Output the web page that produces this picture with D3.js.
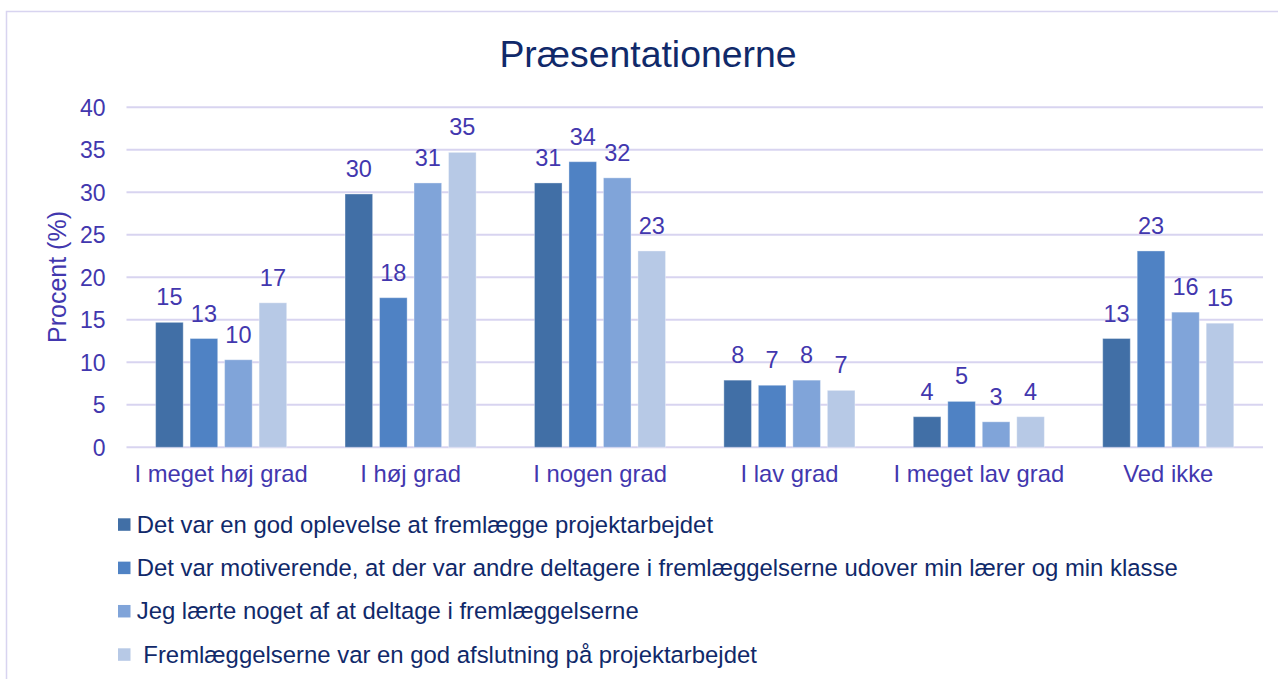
<!DOCTYPE html>
<html>
<head>
<meta charset="utf-8">
<script src="https://cdn.jsdelivr.net/npm/d3@7"></script>
<style>
  html, body { margin: 0; padding: 0; background: #ffffff; }
  svg { display: block; font-family: "Liberation Sans", Arial, sans-serif; }
</style>
</head>
<body>
<svg id="chart" width="1278" height="679"></svg>
<script>
const title = "Præsentationerne";
const yAxisTitle = "Procent (%)";
const categories = ["I meget høj grad", "I høj grad", "I nogen grad", "I lav grad", "I meget lav grad", "Ved ikke"];
const seriesNames = [
  "Det var en god oplevelse at fremlægge projektarbejdet",
  "Det var motiverende, at der var andre deltagere i fremlæggelserne udover min lærer og min klasse",
  "Jeg lærte noget af at deltage i fremlæggelserne",
  " Fremlæggelserne var en god afslutning på projektarbejdet"
];
const series1 = [14.7, 29.8, 31.1, 7.9, 3.6, 12.8];
const series2 = [12.8, 17.6, 33.6, 7.3, 5.4, 23.1];
const series3 = [10.3, 31.1, 31.7, 7.9, 3.0, 15.9];
const series4 = [17.0, 34.7, 23.1, 6.7, 3.6, 14.6];
const yTicks = [0, 5, 10, 15, 20, 25, 30, 35, 40];

const seriesValues = [series1, series2, series3, series4];
const colors = ["#416fa6", "#4f82c4", "#80a4d9", "#b7c9e6"];
const purple = "#4237ae";
const navy = "#10296a";
const gridColor = "#d8d4f0";

const svg = d3.select("#chart");

// border frame
svg.append("rect")
  .attr("x", 6.5).attr("y", 11.5)
  .attr("width", 1300).attr("height", 700)
  .attr("fill", "none").attr("stroke", gridColor).attr("stroke-width", 1.5);

const plot = { left: 126.5, right: 1263, top: 107.3, bottom: 447.3 };

const y = d3.scaleLinear().domain([0, 40]).range([plot.bottom, plot.top]);
const x0 = d3.scaleBand().domain(categories).range([plot.left, plot.right]).paddingInner(0).paddingOuter(0);
const x1 = d3.scaleBand().domain(d3.range(4)).range([29.1, 160.1]).paddingInner(0.2);
const groupScale = x0.step() / 189.3;

// gridlines
svg.append("g").selectAll("line").data(yTicks).join("line")
  .attr("x1", plot.left).attr("x2", plot.right)
  .attr("y1", d => y(d)).attr("y2", d => y(d))
  .attr("stroke", gridColor).attr("stroke-width", 2);

// y axis labels
const yAxis = d3.axisLeft(y).tickValues(yTicks).tickSize(0).tickPadding(21);
const yg = svg.append("g").attr("transform", `translate(${plot.left},0)`).call(yAxis);
yg.select(".domain").remove();
yg.selectAll("text").attr("fill", purple).style("font-size", "23px")
  .style("font-family", "'Liberation Sans', Arial, sans-serif").attr("dy", "0.35em");

// x axis labels
const xAxis = d3.axisBottom(x0).tickSize(0).tickPadding(0);
const xg = svg.append("g").attr("transform", `translate(0,${plot.bottom})`).call(xAxis);
xg.select(".domain").remove();
xg.selectAll("text").attr("fill", purple).style("font-size", "23.8px")
  .style("font-family", "'Liberation Sans', Arial, sans-serif")
  .attr("dy", null).attr("y", 35);

// bars
const groups = svg.append("g").selectAll("g").data(categories).join("g")
  .attr("transform", d => `translate(${x0(d)},0)`);

groups.selectAll("rect")
  .data((c, ci) => seriesValues.map((s, si) => ({ si, v: s[ci] })))
  .join("rect")
  .attr("x", d => x1(d.si) * groupScale)
  .attr("width", x1.bandwidth() * groupScale)
  .attr("y", d => y(d.v))
  .attr("height", d => y(0) - y(d.v))
  .attr("fill", d => colors[d.si])
  .attr("stroke", "#ffffff").attr("stroke-opacity", 0.35).attr("stroke-width", 1);

groups.selectAll("text")
  .data((c, ci) => seriesValues.map((s, si) => ({ si, v: s[ci] })))
  .join("text")
  .attr("x", d => (x1(d.si) + x1.bandwidth() / 2) * groupScale)
  .attr("y", d => y(d.v) - 17)
  .attr("text-anchor", "middle")
  .attr("fill", purple)
  .style("font-size", "23.5px")
  .text(d => Math.round(d.v));

// y axis title
svg.append("text")
  .attr("transform", `translate(66,277) rotate(-90)`)
  .attr("text-anchor", "middle")
  .attr("fill", purple)
  .style("font-size", "25px")
  .text(yAxisTitle);

// chart title
svg.append("text")
  .attr("x", 648).attr("y", 67)
  .attr("text-anchor", "middle")
  .attr("fill", navy)
  .style("font-size", "37.4px")
  .text(title);

// legend
const legendRow = d3.scaleLinear().domain([0, 3]).range([524.5, 654.5]);
const lg = svg.append("g").selectAll("g").data(seriesNames).join("g")
  .attr("transform", (d, i) => `translate(118,${legendRow(i)})`);
lg.append("rect").attr("x", 0).attr("y", -6.2).attr("width", 12.5).attr("height", 12.5)
  .attr("fill", (d, i) => colors[i]);
lg.append("text").attr("x", 18.7).attr("y", 8)
  .attr("fill", navy).style("font-size", "23.9px")
  .style("white-space", "pre").attr("xml:space", "preserve")
  .text(d => d);
</script>
</body>
</html>
